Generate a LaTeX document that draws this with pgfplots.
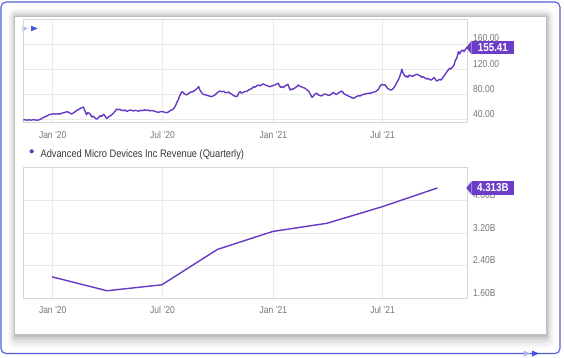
\documentclass[border=0pt]{standalone}
\usepackage{fontspec}
\setmainfont{Liberation Sans}[FakeStretch=0.85]
\usepackage{pgfplots}
\pgfplotsset{compat=1.18}
\definecolor{amd}{RGB}{103,58,196}
\definecolor{tagc}{RGB}{108,62,200}
\definecolor{gridc}{RGB}{234,234,234}
\definecolor{framec}{RGB}{214,214,214}
\definecolor{tickc}{RGB}{118,118,118}
\definecolor{legc}{RGB}{55,55,55}
\definecolor{borderc}{RGB}{78,94,214}
\definecolor{trilight}{RGB}{168,180,245}
\definecolor{tridark}{RGB}{70,84,224}

\pgfplotstableread{
d v
-49 39.5
-46 40.0
-43 39.2
-40 39.8
-36 39.3
-33 39.9
-29 39.6
-25 39.2
-21 40.4
-18 42.1
-15 43.8
-12 44.9
-9 46.3
-6 47.9
-3 48.6
0 49.0
2 49.6
5 48.8
8 49.5
11 48.7
14 50.1
17 50.8
20 51.4
23 52.6
26 52.0
29 50.3
31 49.0
34 50.5
37 52.6
40 54.8
43 56.4
46 57.9
49 59.5
51 60.1
53 55.0
56 47.8
58 51.2
61 50.0
63 47.5
65 44.2
67 45.8
69 43.9
71 42.0
73 41.0
75 42.7
77 44.1
79 46.5
81 45.0
84 48.6
86 47.1
88 43.5
90 42.0
92 44.2
95 45.9
98 47.8
101 50.7
104 54.2
106 57.0
108 55.8
111 56.5
114 55.0
117 54.2
120 55.3
123 53.0
126 54.6
129 55.5
131 54.8
134 53.9
137 54.9
140 54.1
143 53.6
146 55.0
149 54.3
152 55.6
155 54.7
158 55.4
161 54.0
164 54.6
167 54.1
170 53.0
173 52.2
175 51.4
178 52.6
181 53.0
184 52.4
187 51.4
190 51.2
193 53.0
196 55.2
199 56.0
202 59.2
204 63.0
206 67.5
208 71.0
210 76.5
212 80.5
214 84.4
216 83.5
218 81.6
220 80.2
222 79.3
224 80.6
226 82.0
228 83.3
230 84.1
232 84.0
234 85.6
236 86.5
238 88.0
240 90.5
242 92.4
244 87.3
246 84.0
248 81.5
250 80.0
252 79.6
255 79.0
258 78.0
261 77.1
264 76.5
266 77.8
269 79.2
272 82.0
275 84.3
277 85.6
280 84.2
283 85.1
286 83.3
289 82.7
292 83.9
294 81.8
297 80.6
300 78.2
302 77.5
305 76.3
307 79.0
309 83.0
311 84.4
313 82.1
316 83.3
319 84.7
322 85.2
325 87.1
328 88.4
331 90.0
333 92.4
336 91.6
339 94.2
341 95.0
344 93.6
347 95.8
349 96.6
352 95.3
355 94.0
358 93.2
360 92.1
363 93.4
366 94.5
369 95.2
371 96.6
374 97.7
376 94.1
378 91.2
380 92.4
383 90.8
385 93.4
388 94.8
390 96.0
392 91.3
394 87.0
396 88.4
399 88.6
402 90.6
405 92.7
407 95.0
410 93.0
413 91.9
416 90.8
419 89.5
422 87.1
424 85.5
426 83.1
428 79.0
430 75.4
432 77.0
434 79.8
436 81.4
438 81.8
441 79.2
443 78.4
446 77.6
448 79.1
451 80.8
454 80.0
457 78.6
460 79.2
463 81.0
465 83.3
467 82.0
469 80.5
471 80.2
474 82.7
477 84.1
479 85.5
481 84.0
483 81.2
486 79.5
488 78.8
491 77.2
494 76.0
496 74.8
499 73.9
501 75.0
504 76.8
507 78.0
510 77.6
513 79.3
516 80.2
518 80.8
521 81.2
524 82.1
527 81.6
529 82.9
532 83.5
535 84.4
537 85.5
540 87.9
542 91.6
544 94.5
546 96.0
548 95.0
551 95.3
553 93.1
555 90.0
557 88.6
560 87.4
562 87.0
564 88.8
566 91.0
568 93.9
570 97.5
572 101.5
574 104.5
576 110.0
578 116.0
579 120.0
581 114.0
583 110.9
585 108.0
587 109.3
589 107.2
591 110.6
593 110.0
595 109.3
597 108.8
600 110.5
603 111.9
606 111.3
609 109.8
612 107.2
614 108.3
617 106.3
620 104.5
622 105.6
624 104.1
626 103.4
628 102.9
631 105.6
633 106.7
635 103.5
637 101.4
639 102.3
642 104.0
644 102.9
646 105.2
648 108.2
650 110.8
652 113.6
654 116.2
656 118.7
658 121.5
660 120.2
662 122.6
664 124.1
666 128.0
668 134.7
670 137.0
672 144.5
673 148.0
675 144.3
676 146.2
678 149.5
680 150.3
682 147.9
684 151.0
686 153.1
687.6 155.41
}\pricetable

\pgfplotstableread{
d v
-1 2.127
90 1.786
181 1.932
273 2.801
365 3.244
455 3.445
546 3.850
638 4.313
}\revtable

\pgfplotsset{
  mybase/.style={
    scale only axis, width=444pt,
    xmin=-48.8, xmax=687.6,
    xtick={0,182,366,547},
    xticklabels={Jan '20, Jul '20, Jan '21, Jul '21},
    grid=major, major grid style={gridc, line width=0.6pt},
    axis line style={framec, line width=0.6pt},
    tick style={draw=none},
    yticklabel pos=right,
    ticklabel style={font=\fontsize{10}{11}\selectfont, text=tickc, inner sep=0pt},
    yticklabel style={anchor=west, xshift=5.7pt, yshift=5.6pt},
    /pgf/number format/assume math mode=true,
  }
}

\begin{document}
\begin{tikzpicture}
\useasboundingbox (0,0) rectangle (564pt,-358pt);
\fill[white] (0,0) rectangle (564pt,-358pt);
% card shadow
\fill[black, opacity=0.02, rounded corners=9pt] (7pt,-8pt) rectangle (555pt,-349pt);
\fill[black, opacity=0.035, rounded corners=7pt] (9pt,-10pt) rectangle (553pt,-346pt);
\fill[black, opacity=0.05, rounded corners=5pt] (11pt,-12pt) rectangle (551pt,-343pt);
\fill[black, opacity=0.07, rounded corners=3pt] (13pt,-14pt) rectangle (549pt,-340pt);
\fill[black, opacity=0.09, rounded corners=1pt] (14pt,-16pt) rectangle (547.5pt,-337pt);
\fill[white] (15pt,-17pt) rectangle (546pt,-334pt);
% outer border
\draw[borderc, line width=1.1pt, rounded corners=5pt] (1pt,-2pt) rectangle (560pt,-353.5pt);
% small arrow icons
\fill[trilight] (22.3pt,-25.7pt) -- (27.5pt,-28.5pt) -- (22.3pt,-31.3pt) -- cycle;
\fill[tridark] (31pt,-25.7pt) -- (37.7pt,-28.5pt) -- (31pt,-31.3pt) -- cycle;
\fill[trilight] (523.5pt,-350.5pt) -- (530pt,-353.5pt) -- (523.5pt,-356.5pt) -- cycle;
\fill[tridark] (532pt,-350.5pt) -- (539pt,-353.5pt) -- (532pt,-356.5pt) -- cycle;

\begin{axis}[mybase,
  at={(23.3pt,-122.3pt)}, anchor=south west,
  height=103.3pt,
  ymin=35.88, ymax=199.6,
  ytick={40,80,120,160},
  yticklabel style={/pgf/number format/.cd, fixed, fixed zerofill, precision=2},
  xticklabel style={anchor=north, yshift=-9.2pt},
]
\addplot[amd, line width=1.4pt, line join=round] table[x=d, y=v] {\pricetable};
\coordinate (tag1) at (axis cs:687.6,155.41);
\end{axis}

\begin{axis}[mybase,
  at={(23.3pt,-298.3pt)}, anchor=south west,
  height=131pt,
  ymin=1.6, ymax=4.821,
  ytick={1.6,2.4,3.2,4.0},
  yticklabel={\pgfmathprintnumber[fixed, fixed zerofill, precision=2]{\tick}B},
  xticklabel style={anchor=north, yshift=-7.8pt},
  legend style={at={(0,1.101)}, anchor=west, xshift=6.3pt, draw=none, fill=none,
    inner sep=0pt, outer sep=0pt, font=\fontsize{10.9}{12}\selectfont, text=legc,
    nodes={inner sep=0pt}},
  legend cell align=left,
  legend image code/.code={\fill[amd, draw=none] (2.1pt,2.9pt) circle (2.1pt); \path[draw=none, fill=none] (0pt,0pt) -- (11pt,0pt);},
]
\addplot[amd, line width=1.4pt, line join=round] table[x=d, y=v] {\revtable};
\addlegendentry{Advanced Micro Devices Inc Revenue (Quarterly)}
\coordinate (tag2) at (axis cs:687.6,4.313);
\end{axis}

% value tags
\node[fill=tagc, text=white, font=\bfseries\fontsize{11.5}{12}\selectfont, inner sep=0pt,
  minimum height=13.6pt, minimum width=42pt, anchor=west] (t1) at ([xshift=4.4pt,yshift=-0.6pt]tag1) {155.41};
\fill[tagc] (t1.north west) -- ([xshift=-5.4pt]t1.west) -- (t1.south west) -- cycle;
\node[fill=tagc, text=white, font=\bfseries\fontsize{11.5}{12}\selectfont, inner sep=0pt,
  minimum height=13.4pt, minimum width=42pt, anchor=west] (t2) at ([xshift=4.4pt]tag2) {4.313B};
\fill[tagc] (t2.north west) -- ([xshift=-5.4pt]t2.west) -- (t2.south west) -- cycle;
\end{tikzpicture}
\end{document}
